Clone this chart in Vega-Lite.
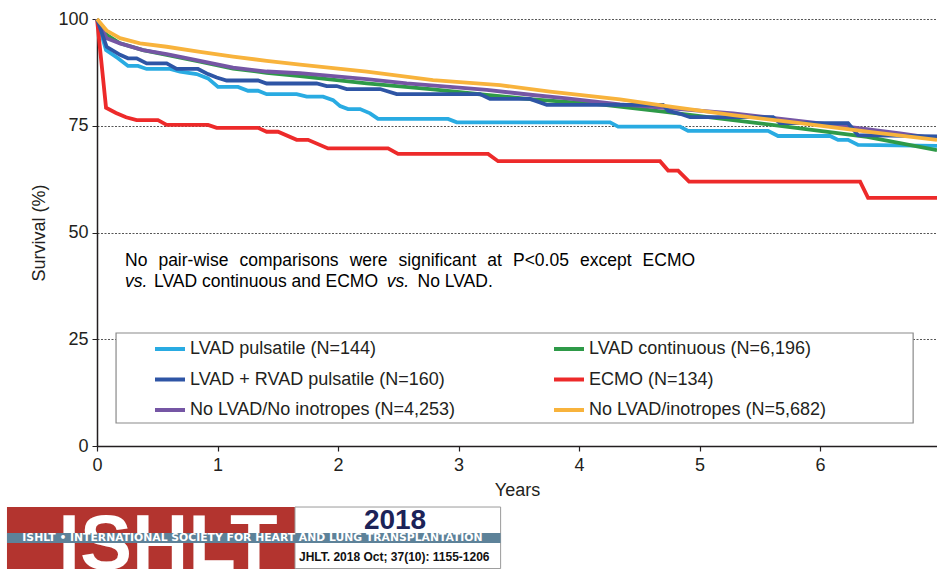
{
  "$schema": "https://vega.github.io/schema/vega-lite/v6.json",
  "width": 840,
  "height": 427,
  "autosize": {"type": "none"},
  "padding": {"left": 97, "top": 19, "right": 0, "bottom": 123},
  "background": "white",
  "config": {
    "view": {"stroke": null},
    "font": "Liberation Sans",
    "axis": {"labelFont": "Liberation Sans", "titleFont": "Liberation Sans", "labelColor": "#231f20", "titleColor": "#231f20", "titleFontWeight": "normal"},
    "style": {
      "note": {"font": "Liberation Sans", "fontSize": 17.5, "align": "left", "baseline": "middle", "fill": "#231f20"},
      "noteit": {"font": "Liberation Sans", "fontSize": 17.5, "fontStyle": "italic", "align": "left", "baseline": "middle", "fill": "#231f20"}
    }
  },
  "layer": [
    {
      "data": {"values": [{"series": "LVAD pulsatile (N=144)", "year": 0, "survival": 100}, {"series": "LVAD pulsatile (N=144)", "year": 0.075, "survival": 92.7}, {"series": "LVAD pulsatile (N=144)", "year": 0.174, "survival": 90.8}, {"series": "LVAD pulsatile (N=144)", "year": 0.257, "survival": 89.0}, {"series": "LVAD pulsatile (N=144)", "year": 0.34, "survival": 89.0}, {"series": "LVAD pulsatile (N=144)", "year": 0.412, "survival": 88.3}, {"series": "LVAD pulsatile (N=144)", "year": 0.606, "survival": 88.3}, {"series": "LVAD pulsatile (N=144)", "year": 0.689, "survival": 87.7}, {"series": "LVAD pulsatile (N=144)", "year": 0.827, "survival": 87.1}, {"series": "LVAD pulsatile (N=144)", "year": 0.921, "survival": 86.1}, {"series": "LVAD pulsatile (N=144)", "year": 1.004, "survival": 84.1}, {"series": "LVAD pulsatile (N=144)", "year": 1.17, "survival": 84.1}, {"series": "LVAD pulsatile (N=144)", "year": 1.253, "survival": 83.2}, {"series": "LVAD pulsatile (N=144)", "year": 1.336, "survival": 83.2}, {"series": "LVAD pulsatile (N=144)", "year": 1.408, "survival": 82.4}, {"series": "LVAD pulsatile (N=144)", "year": 1.657, "survival": 82.4}, {"series": "LVAD pulsatile (N=144)", "year": 1.74, "survival": 81.8}, {"series": "LVAD pulsatile (N=144)", "year": 1.876, "survival": 81.8}, {"series": "LVAD pulsatile (N=144)", "year": 1.959, "survival": 81.0}, {"series": "LVAD pulsatile (N=144)", "year": 2.017, "survival": 79.6}, {"series": "LVAD pulsatile (N=144)", "year": 2.083, "survival": 78.9}, {"series": "LVAD pulsatile (N=144)", "year": 2.183, "survival": 78.9}, {"series": "LVAD pulsatile (N=144)", "year": 2.266, "survival": 77.9}, {"series": "LVAD pulsatile (N=144)", "year": 2.332, "survival": 76.6}, {"series": "LVAD pulsatile (N=144)", "year": 2.913, "survival": 76.6}, {"series": "LVAD pulsatile (N=144)", "year": 2.985, "survival": 75.8}, {"series": "LVAD pulsatile (N=144)", "year": 4.257, "survival": 75.8}, {"series": "LVAD pulsatile (N=144)", "year": 4.324, "survival": 74.8}, {"series": "LVAD pulsatile (N=144)", "year": 4.838, "survival": 74.8}, {"series": "LVAD pulsatile (N=144)", "year": 4.905, "survival": 73.8}, {"series": "LVAD pulsatile (N=144)", "year": 5.568, "survival": 73.8}, {"series": "LVAD pulsatile (N=144)", "year": 5.651, "survival": 72.6}, {"series": "LVAD pulsatile (N=144)", "year": 6.083, "survival": 72.6}, {"series": "LVAD pulsatile (N=144)", "year": 6.149, "survival": 71.7}, {"series": "LVAD pulsatile (N=144)", "year": 6.232, "survival": 71.7}, {"series": "LVAD pulsatile (N=144)", "year": 6.315, "survival": 70.5}, {"series": "LVAD pulsatile (N=144)", "year": 6.97, "survival": 70.3},
        {"series": "ECMO (N=134)", "year": 0, "survival": 100}, {"series": "ECMO (N=134)", "year": 0.075, "survival": 79.2}, {"series": "ECMO (N=134)", "year": 0.158, "survival": 78.0}, {"series": "ECMO (N=134)", "year": 0.241, "survival": 77.0}, {"series": "ECMO (N=134)", "year": 0.329, "survival": 76.3}, {"series": "ECMO (N=134)", "year": 0.506, "survival": 76.3}, {"series": "ECMO (N=134)", "year": 0.578, "survival": 75.2}, {"series": "ECMO (N=134)", "year": 0.921, "survival": 75.2}, {"series": "ECMO (N=134)", "year": 0.993, "survival": 74.5}, {"series": "ECMO (N=134)", "year": 1.336, "survival": 74.5}, {"series": "ECMO (N=134)", "year": 1.408, "survival": 73.6}, {"series": "ECMO (N=134)", "year": 1.502, "survival": 73.6}, {"series": "ECMO (N=134)", "year": 1.657, "survival": 71.7}, {"series": "ECMO (N=134)", "year": 1.751, "survival": 71.7}, {"series": "ECMO (N=134)", "year": 1.917, "survival": 69.7}, {"series": "ECMO (N=134)", "year": 2.415, "survival": 69.7}, {"series": "ECMO (N=134)", "year": 2.498, "survival": 68.4}, {"series": "ECMO (N=134)", "year": 3.245, "survival": 68.4}, {"series": "ECMO (N=134)", "year": 3.328, "survival": 66.7}, {"series": "ECMO (N=134)", "year": 4.672, "survival": 66.7}, {"series": "ECMO (N=134)", "year": 4.739, "survival": 64.5}, {"series": "ECMO (N=134)", "year": 4.822, "survival": 64.5}, {"series": "ECMO (N=134)", "year": 4.913, "survival": 61.9}, {"series": "ECMO (N=134)", "year": 6.332, "survival": 61.9}, {"series": "ECMO (N=134)", "year": 6.398, "survival": 58.1}, {"series": "ECMO (N=134)", "year": 6.97, "survival": 58.1},
        {"series": "LVAD continuous (N=6,196)", "year": 0, "survival": 100}, {"series": "LVAD continuous (N=6,196)", "year": 0.08, "survival": 96.3}, {"series": "LVAD continuous (N=6,196)", "year": 0.191, "survival": 94.3}, {"series": "LVAD continuous (N=6,196)", "year": 0.382, "survival": 92.7}, {"series": "LVAD continuous (N=6,196)", "year": 0.578, "survival": 91.6}, {"series": "LVAD continuous (N=6,196)", "year": 0.855, "survival": 90.0}, {"series": "LVAD continuous (N=6,196)", "year": 1.129, "survival": 88.4}, {"series": "LVAD continuous (N=6,196)", "year": 1.408, "survival": 87.4}, {"series": "LVAD continuous (N=6,196)", "year": 1.685, "survival": 86.6}, {"series": "LVAD continuous (N=6,196)", "year": 2.238, "survival": 84.9}, {"series": "LVAD continuous (N=6,196)", "year": 2.788, "survival": 83.5}, {"series": "LVAD continuous (N=6,196)", "year": 3.234, "survival": 82.2}, {"series": "LVAD continuous (N=6,196)", "year": 3.615, "survival": 81.2}, {"series": "LVAD continuous (N=6,196)", "year": 4.174, "survival": 80.0}, {"series": "LVAD continuous (N=6,196)", "year": 4.697, "survival": 78.3}, {"series": "LVAD continuous (N=6,196)", "year": 5.278, "survival": 76.3}, {"series": "LVAD continuous (N=6,196)", "year": 5.834, "survival": 74.4}, {"series": "LVAD continuous (N=6,196)", "year": 6.39, "survival": 72.4}, {"series": "LVAD continuous (N=6,196)", "year": 6.97, "survival": 69.3},
        {"series": "No LVAD/No inotropes (N=4,253)", "year": 0, "survival": 100}, {"series": "No LVAD/No inotropes (N=4,253)", "year": 0.08, "survival": 95.5}, {"series": "No LVAD/No inotropes (N=4,253)", "year": 0.191, "survival": 94.3}, {"series": "No LVAD/No inotropes (N=4,253)", "year": 0.382, "survival": 92.7}, {"series": "No LVAD/No inotropes (N=4,253)", "year": 0.578, "survival": 91.8}, {"series": "No LVAD/No inotropes (N=4,253)", "year": 0.855, "survival": 90.2}, {"series": "No LVAD/No inotropes (N=4,253)", "year": 1.129, "survival": 88.6}, {"series": "No LVAD/No inotropes (N=4,253)", "year": 1.408, "survival": 87.7}, {"series": "No LVAD/No inotropes (N=4,253)", "year": 1.685, "survival": 87.3}, {"series": "No LVAD/No inotropes (N=4,253)", "year": 2.238, "survival": 85.9}, {"series": "No LVAD/No inotropes (N=4,253)", "year": 2.57, "survival": 84.9}, {"series": "No LVAD/No inotropes (N=4,253)", "year": 2.929, "survival": 84.1}, {"series": "No LVAD/No inotropes (N=4,253)", "year": 3.234, "survival": 83.4}, {"series": "No LVAD/No inotropes (N=4,253)", "year": 3.615, "survival": 82.2}, {"series": "No LVAD/No inotropes (N=4,253)", "year": 3.898, "survival": 81.4}, {"series": "No LVAD/No inotropes (N=4,253)", "year": 4.34, "survival": 80.0}, {"series": "No LVAD/No inotropes (N=4,253)", "year": 5.278, "survival": 77.9}, {"series": "No LVAD/No inotropes (N=4,253)", "year": 6.108, "survival": 75.2}, {"series": "No LVAD/No inotropes (N=4,253)", "year": 6.664, "survival": 73.2}, {"series": "No LVAD/No inotropes (N=4,253)", "year": 6.97, "survival": 72.0},
        {"series": "LVAD + RVAD pulsatile (N=160)", "year": 0, "survival": 100}, {"series": "LVAD + RVAD pulsatile (N=160)", "year": 0.08, "survival": 93.5}, {"series": "LVAD + RVAD pulsatile (N=160)", "year": 0.191, "survival": 91.6}, {"series": "LVAD + RVAD pulsatile (N=160)", "year": 0.257, "survival": 90.8}, {"series": "LVAD + RVAD pulsatile (N=160)", "year": 0.329, "survival": 90.8}, {"series": "LVAD + RVAD pulsatile (N=160)", "year": 0.412, "survival": 89.6}, {"series": "LVAD + RVAD pulsatile (N=160)", "year": 0.578, "survival": 89.6}, {"series": "LVAD + RVAD pulsatile (N=160)", "year": 0.661, "survival": 88.3}, {"series": "LVAD + RVAD pulsatile (N=160)", "year": 0.838, "survival": 88.3}, {"series": "LVAD + RVAD pulsatile (N=160)", "year": 0.921, "survival": 87.1}, {"series": "LVAD + RVAD pulsatile (N=160)", "year": 0.993, "survival": 86.3}, {"series": "LVAD + RVAD pulsatile (N=160)", "year": 1.076, "survival": 85.6}, {"series": "LVAD + RVAD pulsatile (N=160)", "year": 1.336, "survival": 85.6}, {"series": "LVAD + RVAD pulsatile (N=160)", "year": 1.408, "survival": 84.9}, {"series": "LVAD + RVAD pulsatile (N=160)", "year": 1.823, "survival": 84.9}, {"series": "LVAD + RVAD pulsatile (N=160)", "year": 1.906, "survival": 84.3}, {"series": "LVAD + RVAD pulsatile (N=160)", "year": 1.989, "survival": 84.3}, {"series": "LVAD + RVAD pulsatile (N=160)", "year": 2.072, "survival": 83.6}, {"series": "LVAD + RVAD pulsatile (N=160)", "year": 2.349, "survival": 83.6}, {"series": "LVAD + RVAD pulsatile (N=160)", "year": 2.487, "survival": 82.4}, {"series": "LVAD + RVAD pulsatile (N=160)", "year": 3.178, "survival": 82.4}, {"series": "LVAD + RVAD pulsatile (N=160)", "year": 3.261, "survival": 81.3}, {"series": "LVAD + RVAD pulsatile (N=160)", "year": 3.593, "survival": 81.3}, {"series": "LVAD + RVAD pulsatile (N=160)", "year": 3.732, "survival": 79.9}, {"series": "LVAD + RVAD pulsatile (N=160)", "year": 4.697, "survival": 79.9}, {"series": "LVAD + RVAD pulsatile (N=160)", "year": 4.739, "survival": 78.5}, {"series": "LVAD + RVAD pulsatile (N=160)", "year": 4.838, "survival": 77.8}, {"series": "LVAD + RVAD pulsatile (N=160)", "year": 4.921, "survival": 77.0}, {"series": "LVAD + RVAD pulsatile (N=160)", "year": 5.61, "survival": 77.0}, {"series": "LVAD + RVAD pulsatile (N=160)", "year": 5.668, "survival": 75.6}, {"series": "LVAD + RVAD pulsatile (N=160)", "year": 6.232, "survival": 75.6}, {"series": "LVAD + RVAD pulsatile (N=160)", "year": 6.315, "survival": 72.8}, {"series": "LVAD + RVAD pulsatile (N=160)", "year": 6.97, "survival": 72.5},
        {"series": "No LVAD/inotropes (N=5,682)", "year": 0, "survival": 100}, {"series": "No LVAD/inotropes (N=5,682)", "year": 0.08, "survival": 97.3}, {"series": "No LVAD/inotropes (N=5,682)", "year": 0.191, "survival": 95.5}, {"series": "No LVAD/inotropes (N=5,682)", "year": 0.357, "survival": 94.3}, {"series": "No LVAD/inotropes (N=5,682)", "year": 0.578, "survival": 93.5}, {"series": "No LVAD/inotropes (N=5,682)", "year": 0.855, "survival": 92.3}, {"series": "No LVAD/inotropes (N=5,682)", "year": 1.129, "survival": 91.2}, {"series": "No LVAD/inotropes (N=5,682)", "year": 1.408, "survival": 90.2}, {"series": "No LVAD/inotropes (N=5,682)", "year": 1.685, "survival": 89.3}, {"series": "No LVAD/inotropes (N=5,682)", "year": 2.238, "survival": 87.7}, {"series": "No LVAD/inotropes (N=5,682)", "year": 2.788, "survival": 85.7}, {"series": "No LVAD/inotropes (N=5,682)", "year": 3.344, "survival": 84.5}, {"series": "No LVAD/inotropes (N=5,682)", "year": 3.759, "survival": 83.0}, {"series": "No LVAD/inotropes (N=5,682)", "year": 4.34, "survival": 81.2}, {"series": "No LVAD/inotropes (N=5,682)", "year": 4.728, "survival": 79.6}, {"series": "No LVAD/inotropes (N=5,682)", "year": 5.278, "survival": 77.5}, {"series": "No LVAD/inotropes (N=5,682)", "year": 5.834, "survival": 75.6}, {"series": "No LVAD/inotropes (N=5,682)", "year": 6.39, "survival": 73.6}, {"series": "No LVAD/inotropes (N=5,682)", "year": 6.97, "survival": 71.7}]},
      "mark": {"type": "line", "strokeWidth": 3.8, "interpolate": "linear"},
      "encoding": {
        "x": {"field": "year", "type": "quantitative", "scale": {"domain": [0, 6.97], "nice": false, "zero": false},
          "axis": {"title": "Years", "values": [0, 1, 2, 3, 4, 5, 6], "format": "d", "grid": false, "domainColor": "#231f20", "domainWidth": 1.5, "tickColor": "#231f20", "tickWidth": 1.2, "tickSize": 5, "labelFontSize": 18, "labelPadding": 5, "labelFlush": false, "labelOverlap": false, "titleFontSize": 18, "titlePadding": 7}},
        "y": {"field": "survival", "type": "quantitative", "scale": {"domain": [0, 100], "nice": false},
          "axis": {"title": "Survival (%)", "values": [0, 25, 50, 75, 100], "format": "d", "grid": true, "gridDash": [2, 1.5], "gridColor": "#555", "gridWidth": 1, "domainColor": "#231f20", "domainWidth": 1.5, "tickColor": "#231f20", "tickWidth": 1, "tickSize": 5, "labelFontSize": 18, "labelPadding": 4, "labelFlush": false, "titleFontSize": 18, "titlePadding": 9}},
        "color": {"field": "series", "type": "nominal",
          "scale": {"domain": ["LVAD pulsatile (N=144)", "LVAD + RVAD pulsatile (N=160)", "No LVAD/No inotropes (N=4,253)", "LVAD continuous (N=6,196)", "ECMO (N=134)", "No LVAD/inotropes (N=5,682)"],
            "range": ["#29abe2", "#2e55a5", "#7556a4", "#2e9a48", "#ed2a2a", "#f8b33c"]},
          "legend": {"orient": "none", "legendX": 56, "legendY": 313, "columns": 2, "columnPadding": 91, "rowPadding": 4.5, "padding": 0, "title": null, "symbolType": "stroke", "symbolSize": 900, "symbolStrokeWidth": 4, "labelFontSize": 18, "labelFont": "Liberation Sans", "labelColor": "#231f20", "labelOffset": 3, "labelLimit": 0}}
      }
    },
    {
      "data": {"values": [{}]},
      "mark": {"type": "rect", "fill": "white", "stroke": "#8a8a8a", "strokeWidth": 1.2},
      "encoding": {"x": {"datum": 0.158, "type": "quantitative"}, "x2": {"datum": 6.772}, "y": {"datum": 26.46, "type": "quantitative"}, "y2": {"datum": 5.39}}
    },
    {"data": {"values": [{"t": "No"}]}, "mark": {"type": "text", "style": "note"}, "encoding": {"x": {"datum": 0.2324, "type": "quantitative"}, "y": {"datum": 43.4, "type": "quantitative"}, "text": {"field": "t"}}},
    {"data": {"values": [{"t": "pair-wise"}]}, "mark": {"type": "text", "style": "note"}, "encoding": {"x": {"datum": 0.5095, "type": "quantitative"}, "y": {"datum": 43.4, "type": "quantitative"}, "text": {"field": "t"}}},
    {"data": {"values": [{"t": "comparisons"}]}, "mark": {"type": "text", "style": "note"}, "encoding": {"x": {"datum": 1.1817, "type": "quantitative"}, "y": {"datum": 43.4, "type": "quantitative"}, "text": {"field": "t"}}},
    {"data": {"values": [{"t": "were"}]}, "mark": {"type": "text", "style": "note"}, "encoding": {"x": {"datum": 2.0963, "type": "quantitative"}, "y": {"datum": 43.4, "type": "quantitative"}, "text": {"field": "t"}}},
    {"data": {"values": [{"t": "significant"}]}, "mark": {"type": "text", "style": "note"}, "encoding": {"x": {"datum": 2.5021, "type": "quantitative"}, "y": {"datum": 43.4, "type": "quantitative"}, "text": {"field": "t"}}},
    {"data": {"values": [{"t": "at"}]}, "mark": {"type": "text", "style": "note"}, "encoding": {"x": {"datum": 3.239, "type": "quantitative"}, "y": {"datum": 43.4, "type": "quantitative"}, "text": {"field": "t"}}},
    {"data": {"values": [{"t": "P<0.05"}]}, "mark": {"type": "text", "style": "note"}, "encoding": {"x": {"datum": 3.4515, "type": "quantitative"}, "y": {"datum": 43.4, "type": "quantitative"}, "text": {"field": "t"}}},
    {"data": {"values": [{"t": "except"}]}, "mark": {"type": "text", "style": "note"}, "encoding": {"x": {"datum": 4.0075, "type": "quantitative"}, "y": {"datum": 43.4, "type": "quantitative"}, "text": {"field": "t"}}},
    {"data": {"values": [{"t": "ECMO"}]}, "mark": {"type": "text", "style": "note"}, "encoding": {"x": {"datum": 4.527, "type": "quantitative"}, "y": {"datum": 43.4, "type": "quantitative"}, "text": {"field": "t"}}},
    {"data": {"values": [{"t": "vs."}]}, "mark": {"type": "text", "style": "noteit"}, "encoding": {"x": {"datum": 0.2324, "type": "quantitative"}, "y": {"datum": 38.48, "type": "quantitative"}, "text": {"field": "t"}}},
    {"data": {"values": [{"t": "LVAD continuous and ECMO"}]}, "mark": {"type": "text", "style": "note"}, "encoding": {"x": {"datum": 0.473, "type": "quantitative"}, "y": {"datum": 38.48, "type": "quantitative"}, "text": {"field": "t"}}},
    {"data": {"values": [{"t": "vs."}]}, "mark": {"type": "text", "style": "noteit"}, "encoding": {"x": {"datum": 2.405, "type": "quantitative"}, "y": {"datum": 38.48, "type": "quantitative"}, "text": {"field": "t"}}},
    {"data": {"values": [{"t": "No LVAD."}]}, "mark": {"type": "text", "style": "note"}, "encoding": {"x": {"datum": 2.66, "type": "quantitative"}, "y": {"datum": 38.48, "type": "quantitative"}, "text": {"field": "t"}}},
    {
      "data": {"values": [{}]},
      "mark": {"type": "rect", "fill": "#b3342f"},
      "encoding": {"x": {"datum": -0.747, "type": "quantitative"}, "x2": {"datum": 1.643}, "y": {"datum": -14.29, "type": "quantitative"}, "y2": {"datum": -28.81}}
    },
    {
      "data": {"values": [{}]},
      "mark": {"type": "rect", "fill": "white", "stroke": "#9a9a9a", "strokeWidth": 1},
      "encoding": {"x": {"datum": 1.643, "type": "quantitative"}, "x2": {"datum": 3.349}, "y": {"datum": -14.29, "type": "quantitative"}, "y2": {"datum": -28.7}}
    },
    {"data": {"values": [{"t": "ISHLT"}]}, "mark": {"type": "text", "font": "Liberation Sans", "fontWeight": "bold", "fontSize": 78, "align": "center", "baseline": "alphabetic", "fill": "white"}, "encoding": {"x": {"datum": 0.589, "type": "quantitative"}, "y": {"datum": -28.81, "type": "quantitative"}, "text": {"field": "t"}}},
    {
      "data": {"values": [{}]},
      "mark": {"type": "rect", "fill": "#5d8299"},
      "encoding": {"x": {"datum": -0.747, "type": "quantitative"}, "x2": {"datum": 3.349}, "y": {"datum": -20.37, "type": "quantitative"}, "y2": {"datum": -22.72}}
    },
    {"data": {"values": [{"t": "ISHLT • INTERNATIONAL SOCIETY FOR HEART AND LUNG TRANSPLANTATION"}]}, "mark": {"type": "text", "font": "DejaVu Sans", "fontWeight": "bold", "fontSize": 10.8, "align": "center", "baseline": "middle", "fill": "white"}, "encoding": {"x": {"datum": 1.29, "type": "quantitative"}, "y": {"datum": -21.55, "type": "quantitative"}, "text": {"field": "t"}}},
    {"data": {"values": [{"t": "2018"}]}, "mark": {"type": "text", "font": "Liberation Sans", "fontWeight": "bold", "fontSize": 28, "align": "center", "baseline": "middle", "fill": "#1c2358"}, "encoding": {"x": {"datum": 2.473, "type": "quantitative"}, "y": {"datum": -17.5, "type": "quantitative"}, "text": {"field": "t"}}},
    {"data": {"values": [{"t": "JHLT. 2018 Oct; 37(10): 1155-1206"}]}, "mark": {"type": "text", "font": "Liberation Sans", "fontWeight": "bold", "fontSize": 12, "align": "left", "baseline": "middle", "fill": "#111"}, "encoding": {"x": {"datum": 1.676, "type": "quantitative"}, "y": {"datum": -26.11, "type": "quantitative"}, "text": {"field": "t"}}}
  ]
}
